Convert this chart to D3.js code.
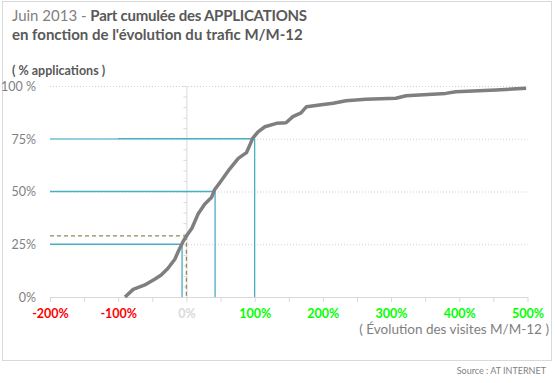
<!DOCTYPE html>
<html><head><meta charset="utf-8">
<script src="https://cdnjs.cloudflare.com/ajax/libs/d3/7.8.5/d3.min.js"></script>
<style>
html,body{margin:0;padding:0;background:#fff;}
svg{display:block;font-family:Lato,"Open Sans",sans-serif;}
</style></head>
<body><svg id="c" width="555" height="383"></svg>
<script>
// ---- data ----
const xTicks = [-200,-150,-100,-50,0,50,100,150,200,250,300,350,400,450,500];
const xLabels = ["-200%","-100%","0%","100%","200%","300%","400%","500%"];
const yLabels = ["0%","25%","50%","75%","100 %"];
const yLabelValues = [0,25,50,75,100];
const curveX = [-90,-78,-61,-46,-37,-27,-17,-11,-5,0,8,17,27,37,41,51,63,76,88,93,97,105,115,132,146,156,168,176,195,215,234,263,307,322,380,395,454,498];
const curveY = [0,3.6,5.7,8.5,10.4,13.6,17.9,22.3,26.2,28.9,32.6,39.3,44.1,47.3,50.7,55.1,60.5,65.7,68.4,72.0,75.2,78.3,80.7,82.3,82.6,85.5,87.3,90.2,91.0,91.8,93.0,93.7,94.2,95.4,96.5,97.3,98.1,98.9];
const refPct = [25,50,75];
const refEvo = [-6.4,42,100];
const dashPct = 29, dashEvo = 0;

const svg = d3.select("#c");
const x = d3.scaleLinear().domain([-200,500]).range([50,527.5]);
const y = d3.scaleLinear().domain([0,100]).range([297,86]);

// border
svg.append("rect").attr("x",2.5).attr("y",1.5).attr("width",549).attr("height",359)
  .attr("fill","none").attr("stroke","#d9d9d9");

// title
const t = svg.append("text").attr("x",12).attr("y",21).attr("font-size",15);
t.append("tspan").attr("fill","#7f7f7f").text("Juin 2013 - ");
t.append("tspan").attr("fill","#595959").attr("font-weight","bold").attr("letter-spacing",-0.25).text("Part cumulée des APPLICATIONS");
svg.append("text").attr("x",12).attr("y",40).attr("font-size",15).attr("fill","#595959")
  .attr("font-weight","bold").text("en fonction de l'évolution du trafic M/M-12");
svg.append("text").attr("x",12).attr("y",75).attr("font-size",12.5).attr("fill","#595959")
  .attr("font-weight","bold").text("( % applications )");

// gridlines
svg.append("g").selectAll("line").data(yLabelValues.filter(d=>d>0)).join("line")
  .attr("x1",x(-200)).attr("x2",x(500)).attr("y1",d=>y(d)+0.5).attr("y2",d=>y(d)+0.5)
  .attr("stroke","#cfcfcf").attr("stroke-dasharray","1,2");

// y axis at x=0
const yAxis = d3.axisLeft(y).tickValues(d3.range(0,101,5)).tickSize(3).tickFormat("");
const gy = svg.append("g").attr("transform",`translate(${x(0)},0)`).call(yAxis);
gy.selectAll("path,line").attr("stroke","#d9d9d9");

// y labels
svg.append("g").selectAll("text").data(yLabelValues).join("text")
  .attr("x",36).attr("y",d=>y(d)).attr("dy","0.38em").attr("text-anchor","end")
  .attr("font-size",12.5).attr("fill","#7f7f7f").text((d,i)=>yLabels[i]);

// x axis
const xAxis = d3.axisBottom(x).tickValues(xTicks).tickSize(5).tickSizeOuter(0)
  .tickFormat(d => d%100===0 ? xLabels[(d+200)/100] : "");
const gx = svg.append("g").attr("transform",`translate(0,${y(0)})`).call(xAxis);
gx.selectAll("path,line").attr("stroke","#d9d9d9");
gx.selectAll("text").attr("font-size",12.5).attr("font-weight","bold").attr("font-family","Lato,sans-serif")
  .attr("y",21).attr("dy",0)
  .attr("fill",d => d<0 ? "#ff0000" : d===0 ? "#d9d9d9" : "#00ff00");

svg.append("text").attr("x",549).attr("y",334).attr("text-anchor","end").attr("font-size",13.5)
  .attr("fill","#7f7f7f").text("( Évolution des visites M/M-12 )");
svg.append("text").attr("x",546).attr("y",374).attr("text-anchor","end").attr("font-size",9)
  .attr("fill","#7f7f7f").text("Source : AT INTERNET");

// reference lines
const ref = svg.append("g");
refPct.forEach((p,i)=>{
  ref.append("line").attr("x1",x(-200)).attr("x2",x(refEvo[i])).attr("y1",y(p)).attr("y2",y(p))
    .attr("stroke","#4bacc6").attr("stroke-width",1.3);
  ref.append("line").attr("x1",x(refEvo[i])).attr("x2",x(refEvo[i])).attr("y1",y(p)).attr("y2",y(0))
    .attr("stroke","#4bacc6").attr("stroke-width",1.3);
});
ref.append("line").attr("x1",x(-200)).attr("x2",x(-100)).attr("y1",y(75)).attr("y2",y(75))
  .attr("stroke","#93cddd").attr("stroke-width",1.5);
ref.append("line").attr("x1",x(-200)).attr("x2",x(dashEvo)).attr("y1",y(dashPct)).attr("y2",y(dashPct))
  .attr("stroke","#948a54").attr("stroke-width",1.3).attr("stroke-dasharray","4,3");
ref.append("line").attr("x1",x(dashEvo)).attr("x2",x(dashEvo)).attr("y1",y(dashPct)).attr("y2",y(0))
  .attr("stroke","#948a54").attr("stroke-width",1.3).attr("stroke-dasharray","4,3");

// curve
const line = d3.line().x((d,i)=>x(curveX[i])).y((d,i)=>y(curveY[i]));
svg.append("path").datum(curveX).attr("d",line).attr("fill","none")
  .attr("stroke","#7f7f7f").attr("stroke-width",3.5).attr("stroke-linejoin","round");
</script></body></html>
